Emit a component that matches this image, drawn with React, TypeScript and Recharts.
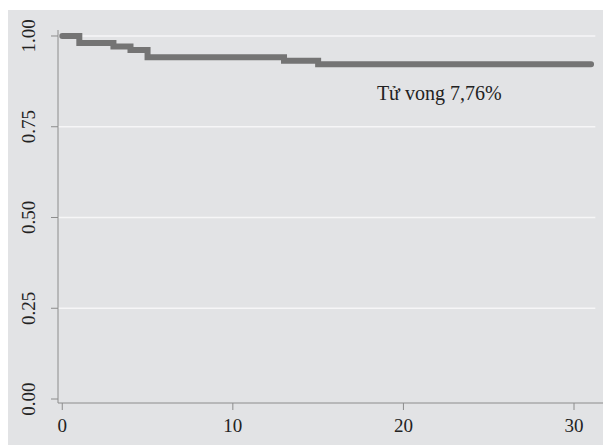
import React from "react";
import {
  LineChart,
  Line,
  XAxis,
  YAxis,
  ReferenceLine,
  ReferenceDot,
} from "recharts";

// Kaplan-Meier survival steps (time, survival)
const times = [0, 1, 3, 4, 5, 13, 15, 31];
const survival = [1.0, 0.9806, 0.9709, 0.9612, 0.9417, 0.932, 0.9224, 0.9224];

const xTicks = [0, 10, 20, 30];
const yTicks = [0, 0.25, 0.5, 0.75, 1];
const gridValues = [0.25, 0.5, 0.75, 1];

const annotation = "Tử vong 7,76%";

const data = times.map((t, i) => ({ t, s: survival[i] }));

const FONT = "'Liberation Serif', 'Times New Roman', serif";
const AXIS = "#8c8c8c";

const YTick = (props: any) => {
  const { x, y, payload } = props;
  const cx = x - 20;
  return (
    <text
      x={cx}
      y={y}
      transform={`rotate(-90, ${cx}, ${y})`}
      textAnchor="middle"
      dominantBaseline="central"
      fontFamily={FONT}
      fontSize={19}
      fill="#222"
    >
      {payload.value.toFixed(2)}
    </text>
  );
};

const App: React.FC = () => {
  return (
    <div
      style={{
        position: "relative",
        top: 2,
        width: 603,
        height: 437,
        background: "#e2e3e5",
      }}
    >
      <LineChart
        width={603}
        height={437}
        data={data}
        margin={{ top: 20, right: 8, bottom: 0, left: 0 }}
      >
        <XAxis
          dataKey="t"
          type="number"
          domain={[-0.25, 31.7]}
          ticks={xTicks}
          allowDataOverflow
          height={44}
          tickSize={7}
          tickMargin={9}
          stroke={AXIS}
          tick={{ fill: "#222", fontFamily: FONT, fontSize: 19 }}
        />
        <YAxis
          type="number"
          domain={[-0.011, 1.0165]}
          ticks={yTicks}
          allowDataOverflow
          width={50}
          tickSize={7}
          stroke={AXIS}
          tick={<YTick />}
        />
        {gridValues.map((v) => (
          <ReferenceLine
            key={v}
            segment={[
              { x: -0.25, y: v },
              { x: 31.25, y: v },
            ]}
            stroke="#f6f6f7"
            strokeWidth={1.5}
            ifOverflow="extendDomain"
          />
        ))}
        <Line
          type="stepAfter"
          dataKey="s"
          stroke="#747474"
          strokeWidth={6}
          strokeLinecap="round"
          dot={false}
          activeDot={false}
          isAnimationActive={false}
        />
        <ReferenceDot
          x={22.1}
          y={0.843}
          r={0}
          fill="none"
          stroke="none"
          label={{
            value: annotation,
            position: "center",
            fontFamily: FONT,
            fontSize: 20,
            fill: "#222",
          }}
        />
      </LineChart>
    </div>
  );
};

export default App;
